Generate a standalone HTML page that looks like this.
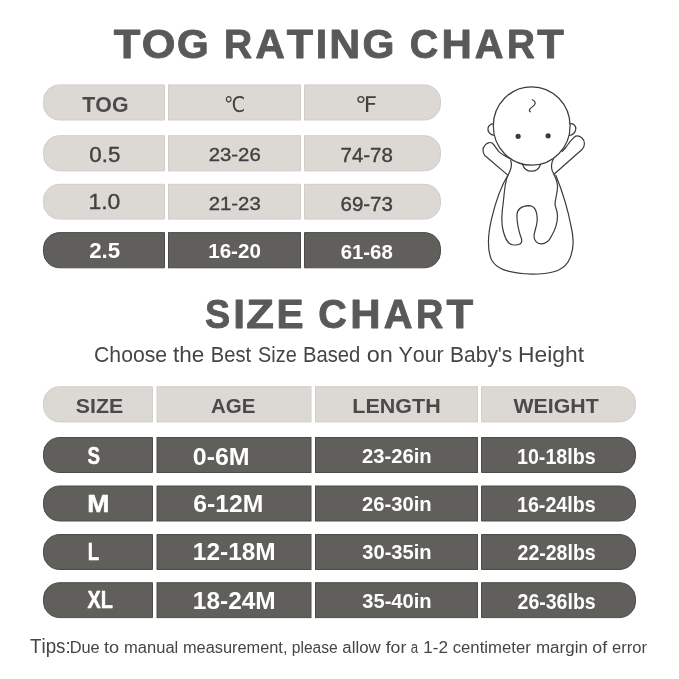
<!DOCTYPE html>
<html><head><meta charset="utf-8"><title>TOG Rating Chart &amp; Size Chart</title>
<style>
html,body{margin:0;padding:0;background:#fff;}
svg{display:block;will-change:transform;}
text{font-kerning:none;}
</style></head>
<body>
<svg width="679" height="679" viewBox="0 0 679 679">
<rect width="679" height="679" fill="#fff"/>
<path d="M60.0,84.9 H164.5 V120.0 H60.0 A16.5,15.5 0 0 1 43.5,104.5 V100.4 A16.5,15.5 0 0 1 60.0,84.9 Z" fill="#dcd8d3" stroke="#d2cec9" stroke-width="1"/>
<rect x="168.5" y="84.9" width="132.0" height="35.099999999999994" fill="#dcd8d3" stroke="#d2cec9" stroke-width="1"/>
<path d="M304.5,84.9 H424.0 A16.5,15.5 0 0 1 440.5,100.4 V104.5 A16.5,15.5 0 0 1 424.0,120.0 H304.5 Z" fill="#dcd8d3" stroke="#d2cec9" stroke-width="1"/>
<path d="M60.0,135.7 H164.5 V170.9 H60.0 A16.5,15.5 0 0 1 43.5,155.4 V151.2 A16.5,15.5 0 0 1 60.0,135.7 Z" fill="#dcd8d3" stroke="#d2cec9" stroke-width="1"/>
<rect x="168.5" y="135.7" width="132.0" height="35.20000000000002" fill="#dcd8d3" stroke="#d2cec9" stroke-width="1"/>
<path d="M304.5,135.7 H424.0 A16.5,15.5 0 0 1 440.5,151.2 V155.4 A16.5,15.5 0 0 1 424.0,170.9 H304.5 Z" fill="#dcd8d3" stroke="#d2cec9" stroke-width="1"/>
<path d="M60.0,184.3 H164.5 V219.1 H60.0 A16.5,15.5 0 0 1 43.5,203.6 V199.8 A16.5,15.5 0 0 1 60.0,184.3 Z" fill="#dcd8d3" stroke="#d2cec9" stroke-width="1"/>
<rect x="168.5" y="184.3" width="132.0" height="34.79999999999998" fill="#dcd8d3" stroke="#d2cec9" stroke-width="1"/>
<path d="M304.5,184.3 H424.0 A16.5,15.5 0 0 1 440.5,199.8 V203.6 A16.5,15.5 0 0 1 424.0,219.1 H304.5 Z" fill="#dcd8d3" stroke="#d2cec9" stroke-width="1"/>
<path d="M60.0,232.6 H164.5 V267.8 H60.0 A16.5,15.5 0 0 1 43.5,252.3 V248.1 A16.5,15.5 0 0 1 60.0,232.6 Z" fill="#615f5b" stroke="#4e4c4a" stroke-width="1"/>
<rect x="168.5" y="232.6" width="132.0" height="35.20000000000002" fill="#615f5b" stroke="#4e4c4a" stroke-width="1"/>
<path d="M304.5,232.6 H424.0 A16.5,15.5 0 0 1 440.5,248.1 V252.3 A16.5,15.5 0 0 1 424.0,267.8 H304.5 Z" fill="#615f5b" stroke="#4e4c4a" stroke-width="1"/>
<path d="M60.0,386.7 H152.5 V421.9 H60.0 A16.5,15.5 0 0 1 43.5,406.4 V402.2 A16.5,15.5 0 0 1 60.0,386.7 Z" fill="#dcd8d3" stroke="#d2cec9" stroke-width="1"/>
<rect x="157.0" y="386.7" width="154.0" height="35.19999999999999" fill="#dcd8d3" stroke="#d2cec9" stroke-width="1"/>
<rect x="315.5" y="386.7" width="162.0" height="35.19999999999999" fill="#dcd8d3" stroke="#d2cec9" stroke-width="1"/>
<path d="M481.5,386.7 H619.0 A16.5,15.5 0 0 1 635.5,402.2 V406.4 A16.5,15.5 0 0 1 619.0,421.9 H481.5 Z" fill="#dcd8d3" stroke="#d2cec9" stroke-width="1"/>
<path d="M60.0,437.5 H152.5 V472.5 H60.0 A16.5,15.5 0 0 1 43.5,457.0 V453.0 A16.5,15.5 0 0 1 60.0,437.5 Z" fill="#615f5b" stroke="#4e4c4a" stroke-width="1"/>
<rect x="157.0" y="437.5" width="154.0" height="35.0" fill="#615f5b" stroke="#4e4c4a" stroke-width="1"/>
<rect x="315.5" y="437.5" width="162.0" height="35.0" fill="#615f5b" stroke="#4e4c4a" stroke-width="1"/>
<path d="M481.5,437.5 H619.0 A16.5,15.5 0 0 1 635.5,453.0 V457.0 A16.5,15.5 0 0 1 619.0,472.5 H481.5 Z" fill="#615f5b" stroke="#4e4c4a" stroke-width="1"/>
<path d="M60.0,486.0 H152.5 V521.0 H60.0 A16.5,15.5 0 0 1 43.5,505.5 V501.5 A16.5,15.5 0 0 1 60.0,486.0 Z" fill="#615f5b" stroke="#4e4c4a" stroke-width="1"/>
<rect x="157.0" y="486.0" width="154.0" height="35.0" fill="#615f5b" stroke="#4e4c4a" stroke-width="1"/>
<rect x="315.5" y="486.0" width="162.0" height="35.0" fill="#615f5b" stroke="#4e4c4a" stroke-width="1"/>
<path d="M481.5,486.0 H619.0 A16.5,15.5 0 0 1 635.5,501.5 V505.5 A16.5,15.5 0 0 1 619.0,521.0 H481.5 Z" fill="#615f5b" stroke="#4e4c4a" stroke-width="1"/>
<path d="M60.0,534.5 H152.5 V569.5 H60.0 A16.5,15.5 0 0 1 43.5,554.0 V550.0 A16.5,15.5 0 0 1 60.0,534.5 Z" fill="#615f5b" stroke="#4e4c4a" stroke-width="1"/>
<rect x="157.0" y="534.5" width="154.0" height="35.0" fill="#615f5b" stroke="#4e4c4a" stroke-width="1"/>
<rect x="315.5" y="534.5" width="162.0" height="35.0" fill="#615f5b" stroke="#4e4c4a" stroke-width="1"/>
<path d="M481.5,534.5 H619.0 A16.5,15.5 0 0 1 635.5,550.0 V554.0 A16.5,15.5 0 0 1 619.0,569.5 H481.5 Z" fill="#615f5b" stroke="#4e4c4a" stroke-width="1"/>
<path d="M60.0,582.7 H152.5 V617.6 H60.0 A16.5,15.5 0 0 1 43.5,602.1 V598.2 A16.5,15.5 0 0 1 60.0,582.7 Z" fill="#615f5b" stroke="#4e4c4a" stroke-width="1"/>
<rect x="157.0" y="582.7" width="154.0" height="34.89999999999998" fill="#615f5b" stroke="#4e4c4a" stroke-width="1"/>
<rect x="315.5" y="582.7" width="162.0" height="34.89999999999998" fill="#615f5b" stroke="#4e4c4a" stroke-width="1"/>
<path d="M481.5,582.7 H619.0 A16.5,15.5 0 0 1 635.5,598.2 V602.1 A16.5,15.5 0 0 1 619.0,617.6 H481.5 Z" fill="#615f5b" stroke="#4e4c4a" stroke-width="1"/>
<g aria-label="TOG RATING CHART">
<text x="113.76" y="57.55" font-family="'Liberation Sans', sans-serif" font-weight="700" font-size="41.57" fill="#595959" textLength="26.66" lengthAdjust="spacingAndGlyphs" stroke="#595959" stroke-width="0.9" stroke-linejoin="round">T</text>
<text x="141.87" y="57.55" font-family="'Liberation Sans', sans-serif" font-weight="700" font-size="41.57" fill="#595959" textLength="33.70" lengthAdjust="spacingAndGlyphs" stroke="#595959" stroke-width="0.9" stroke-linejoin="round">O</text>
<text x="176.88" y="57.55" font-family="'Liberation Sans', sans-serif" font-weight="700" font-size="41.57" fill="#595959" textLength="31.70" lengthAdjust="spacingAndGlyphs" stroke="#595959" stroke-width="0.9" stroke-linejoin="round">G</text>
<text x="224.05" y="57.55" font-family="'Liberation Sans', sans-serif" font-weight="700" font-size="41.57" fill="#595959" textLength="28.10" lengthAdjust="spacingAndGlyphs" stroke="#595959" stroke-width="0.9" stroke-linejoin="round">R</text>
<text x="255.54" y="57.55" font-family="'Liberation Sans', sans-serif" font-weight="700" font-size="41.57" fill="#595959" textLength="29.28" lengthAdjust="spacingAndGlyphs" stroke="#595959" stroke-width="0.9" stroke-linejoin="round">A</text>
<text x="286.67" y="57.55" font-family="'Liberation Sans', sans-serif" font-weight="700" font-size="41.57" fill="#595959" textLength="26.35" lengthAdjust="spacingAndGlyphs" stroke="#595959" stroke-width="0.9" stroke-linejoin="round">T</text>
<text x="315.81" y="57.55" font-family="'Liberation Sans', sans-serif" font-weight="700" font-size="41.57" fill="#595959" textLength="11.38" lengthAdjust="spacingAndGlyphs" stroke="#595959" stroke-width="0.9" stroke-linejoin="round">I</text>
<text x="329.38" y="57.55" font-family="'Liberation Sans', sans-serif" font-weight="700" font-size="41.57" fill="#595959" textLength="30.96" lengthAdjust="spacingAndGlyphs" stroke="#595959" stroke-width="0.9" stroke-linejoin="round">N</text>
<text x="362.57" y="57.55" font-family="'Liberation Sans', sans-serif" font-weight="700" font-size="41.57" fill="#595959" textLength="31.93" lengthAdjust="spacingAndGlyphs" stroke="#595959" stroke-width="0.9" stroke-linejoin="round">G</text>
<text x="409.73" y="57.55" font-family="'Liberation Sans', sans-serif" font-weight="700" font-size="41.57" fill="#595959" textLength="28.50" lengthAdjust="spacingAndGlyphs" stroke="#595959" stroke-width="0.9" stroke-linejoin="round">C</text>
<text x="441.54" y="57.55" font-family="'Liberation Sans', sans-serif" font-weight="700" font-size="41.57" fill="#595959" textLength="30.34" lengthAdjust="spacingAndGlyphs" stroke="#595959" stroke-width="0.9" stroke-linejoin="round">H</text>
<text x="474.76" y="57.55" font-family="'Liberation Sans', sans-serif" font-weight="700" font-size="41.57" fill="#595959" textLength="28.74" lengthAdjust="spacingAndGlyphs" stroke="#595959" stroke-width="0.9" stroke-linejoin="round">A</text>
<text x="506.97" y="57.55" font-family="'Liberation Sans', sans-serif" font-weight="700" font-size="41.57" fill="#595959" textLength="27.87" lengthAdjust="spacingAndGlyphs" stroke="#595959" stroke-width="0.9" stroke-linejoin="round">R</text>
<text x="537.36" y="57.55" font-family="'Liberation Sans', sans-serif" font-weight="700" font-size="41.57" fill="#595959" textLength="26.56" lengthAdjust="spacingAndGlyphs" stroke="#595959" stroke-width="0.9" stroke-linejoin="round">T</text>
</g>
<g aria-label="SIZE CHART">
<text x="205.06" y="327.95" font-family="'Liberation Sans', sans-serif" font-weight="700" font-size="41.28" fill="#595959" textLength="25.16" lengthAdjust="spacingAndGlyphs" stroke="#595959" stroke-width="0.9" stroke-linejoin="round">S</text>
<text x="233.22" y="327.95" font-family="'Liberation Sans', sans-serif" font-weight="700" font-size="41.28" fill="#595959" textLength="11.77" lengthAdjust="spacingAndGlyphs" stroke="#595959" stroke-width="0.9" stroke-linejoin="round">I</text>
<text x="246.20" y="327.95" font-family="'Liberation Sans', sans-serif" font-weight="700" font-size="41.28" fill="#595959" textLength="27.65" lengthAdjust="spacingAndGlyphs" stroke="#595959" stroke-width="0.9" stroke-linejoin="round">Z</text>
<text x="276.43" y="327.95" font-family="'Liberation Sans', sans-serif" font-weight="700" font-size="41.28" fill="#595959" textLength="27.11" lengthAdjust="spacingAndGlyphs" stroke="#595959" stroke-width="0.9" stroke-linejoin="round">E</text>
<text x="318.33" y="327.95" font-family="'Liberation Sans', sans-serif" font-weight="700" font-size="41.28" fill="#595959" textLength="28.61" lengthAdjust="spacingAndGlyphs" stroke="#595959" stroke-width="0.9" stroke-linejoin="round">C</text>
<text x="350.34" y="327.95" font-family="'Liberation Sans', sans-serif" font-weight="700" font-size="41.28" fill="#595959" textLength="30.34" lengthAdjust="spacingAndGlyphs" stroke="#595959" stroke-width="0.9" stroke-linejoin="round">H</text>
<text x="383.66" y="327.95" font-family="'Liberation Sans', sans-serif" font-weight="700" font-size="41.28" fill="#595959" textLength="28.74" lengthAdjust="spacingAndGlyphs" stroke="#595959" stroke-width="0.9" stroke-linejoin="round">A</text>
<text x="415.92" y="327.95" font-family="'Liberation Sans', sans-serif" font-weight="700" font-size="41.28" fill="#595959" textLength="27.30" lengthAdjust="spacingAndGlyphs" stroke="#595959" stroke-width="0.9" stroke-linejoin="round">R</text>
<text x="446.46" y="327.95" font-family="'Liberation Sans', sans-serif" font-weight="700" font-size="41.28" fill="#595959" textLength="26.66" lengthAdjust="spacingAndGlyphs" stroke="#595959" stroke-width="0.9" stroke-linejoin="round">T</text>
</g>
<text x="94.02" y="361.80" font-family="'Liberation Sans', sans-serif" font-weight="400" font-size="21.80" fill="#454545" textLength="73.12" lengthAdjust="spacingAndGlyphs">Choose</text>
<text x="172.96" y="361.80" font-family="'Liberation Sans', sans-serif" font-weight="400" font-size="21.80" fill="#454545" textLength="31.34" lengthAdjust="spacingAndGlyphs">the</text>
<text x="210.85" y="361.80" font-family="'Liberation Sans', sans-serif" font-weight="400" font-size="21.80" fill="#454545" textLength="40.19" lengthAdjust="spacingAndGlyphs">Best</text>
<text x="258.10" y="361.80" font-family="'Liberation Sans', sans-serif" font-weight="400" font-size="21.80" fill="#454545" textLength="38.58" lengthAdjust="spacingAndGlyphs">Size</text>
<text x="302.94" y="361.80" font-family="'Liberation Sans', sans-serif" font-weight="400" font-size="21.80" fill="#454545" textLength="57.36" lengthAdjust="spacingAndGlyphs">Based</text>
<text x="366.81" y="361.80" font-family="'Liberation Sans', sans-serif" font-weight="400" font-size="21.80" fill="#454545" textLength="26.11" lengthAdjust="spacingAndGlyphs">on</text>
<text x="398.53" y="361.80" font-family="'Liberation Sans', sans-serif" font-weight="400" font-size="21.80" fill="#454545" textLength="45.23" lengthAdjust="spacingAndGlyphs">Your</text>
<text x="450.08" y="361.80" font-family="'Liberation Sans', sans-serif" font-weight="400" font-size="21.80" fill="#454545" textLength="62.28" lengthAdjust="spacingAndGlyphs">Baby's</text>
<text x="518.03" y="361.80" font-family="'Liberation Sans', sans-serif" font-weight="400" font-size="21.80" fill="#454545" textLength="66.04" lengthAdjust="spacingAndGlyphs">Height</text>
<text x="82.36" y="111.70" font-family="'Liberation Sans', sans-serif" font-weight="700" font-size="21.22" fill="#4a4a4a" textLength="46.16" lengthAdjust="spacingAndGlyphs">TOG</text>
<text x="224.00" y="111.59" font-family="'DejaVu Sans', sans-serif" font-weight="400" font-size="21.68" fill="#404040" textLength="21.22" lengthAdjust="spacingAndGlyphs">℃</text>
<text x="354.97" y="111.50" font-family="'DejaVu Sans', sans-serif" font-weight="400" font-size="21.56" fill="#404040" textLength="22.29" lengthAdjust="spacingAndGlyphs">℉</text>
<text x="89.30" y="161.61" font-family="'Liberation Sans', sans-serif" font-weight="400" font-size="22.10" fill="#404040" textLength="31.06" lengthAdjust="spacingAndGlyphs" stroke="#404040" stroke-width="0.35" stroke-linejoin="round">0.5</text>
<text x="208.65" y="161.34" font-family="'Liberation Sans', sans-serif" font-weight="400" font-size="19.14" fill="#404040" textLength="52.07" lengthAdjust="spacingAndGlyphs" stroke="#404040" stroke-width="0.35" stroke-linejoin="round">23-26</text>
<text x="340.52" y="162.43" font-family="'Liberation Sans', sans-serif" font-weight="400" font-size="19.56" fill="#404040" textLength="52.39" lengthAdjust="spacingAndGlyphs" stroke="#404040" stroke-width="0.35" stroke-linejoin="round">74-78</text>
<text x="88.43" y="209.41" font-family="'Liberation Sans', sans-serif" font-weight="400" font-size="22.10" fill="#404040" textLength="31.89" lengthAdjust="spacingAndGlyphs" stroke="#404040" stroke-width="0.35" stroke-linejoin="round">1.0</text>
<text x="208.65" y="209.54" font-family="'Liberation Sans', sans-serif" font-weight="400" font-size="19.14" fill="#404040" textLength="52.07" lengthAdjust="spacingAndGlyphs" stroke="#404040" stroke-width="0.35" stroke-linejoin="round">21-23</text>
<text x="340.53" y="210.63" font-family="'Liberation Sans', sans-serif" font-weight="400" font-size="19.56" fill="#404040" textLength="52.39" lengthAdjust="spacingAndGlyphs" stroke="#404040" stroke-width="0.35" stroke-linejoin="round">69-73</text>
<text x="89.23" y="257.78" font-family="'Liberation Sans', sans-serif" font-weight="700" font-size="22.60" fill="#ffffff" textLength="30.99" lengthAdjust="spacingAndGlyphs">2.5</text>
<text x="208.20" y="258.11" font-family="'Liberation Sans', sans-serif" font-weight="700" font-size="19.63" fill="#ffffff" textLength="52.64" lengthAdjust="spacingAndGlyphs">16-20</text>
<text x="340.65" y="259.20" font-family="'Liberation Sans', sans-serif" font-weight="700" font-size="20.06" fill="#ffffff" textLength="52.17" lengthAdjust="spacingAndGlyphs">61-68</text>
<text x="75.89" y="412.81" font-family="'Liberation Sans', sans-serif" font-weight="700" font-size="19.49" fill="#4a4a4a" textLength="47.35" lengthAdjust="spacingAndGlyphs">SIZE</text>
<text x="210.99" y="412.71" font-family="'Liberation Sans', sans-serif" font-weight="700" font-size="19.49" fill="#4a4a4a" textLength="44.41" lengthAdjust="spacingAndGlyphs">AGE</text>
<text x="352.36" y="413.10" font-family="'Liberation Sans', sans-serif" font-weight="700" font-size="20.06" fill="#4a4a4a" textLength="88.39" lengthAdjust="spacingAndGlyphs">LENGTH</text>
<text x="513.48" y="413.01" font-family="'Liberation Sans', sans-serif" font-weight="700" font-size="19.92" fill="#4a4a4a" textLength="85.25" lengthAdjust="spacingAndGlyphs">WEIGHT</text>
<text x="87.41" y="463.75" font-family="'Liberation Sans', sans-serif" font-weight="700" font-size="23.98" fill="#ffffff" textLength="12.47" lengthAdjust="spacingAndGlyphs" stroke="#ffffff" stroke-width="0.5" stroke-linejoin="round">S</text>
<text x="192.81" y="464.60" font-family="'Liberation Sans', sans-serif" font-weight="700" font-size="24.42" fill="#ffffff" textLength="56.86" lengthAdjust="spacingAndGlyphs">0-6M</text>
<text x="362.00" y="463.20" font-family="'Liberation Sans', sans-serif" font-weight="700" font-size="20.79" fill="#ffffff" textLength="69.65" lengthAdjust="spacingAndGlyphs">23-26in</text>
<text x="516.96" y="464.30" font-family="'Liberation Sans', sans-serif" font-weight="700" font-size="21.95" fill="#ffffff" textLength="78.75" lengthAdjust="spacingAndGlyphs">10-18lbs</text>
<text x="87.17" y="511.55" font-family="'Liberation Sans', sans-serif" font-weight="700" font-size="23.98" fill="#ffffff" textLength="22.16" lengthAdjust="spacingAndGlyphs" stroke="#ffffff" stroke-width="0.5" stroke-linejoin="round">M</text>
<text x="193.19" y="512.40" font-family="'Liberation Sans', sans-serif" font-weight="700" font-size="24.42" fill="#ffffff" textLength="70.06" lengthAdjust="spacingAndGlyphs">6-12M</text>
<text x="362.00" y="511.00" font-family="'Liberation Sans', sans-serif" font-weight="700" font-size="20.79" fill="#ffffff" textLength="69.65" lengthAdjust="spacingAndGlyphs">26-30in</text>
<text x="516.96" y="512.10" font-family="'Liberation Sans', sans-serif" font-weight="700" font-size="21.95" fill="#ffffff" textLength="78.75" lengthAdjust="spacingAndGlyphs">16-24lbs</text>
<text x="87.70" y="559.55" font-family="'Liberation Sans', sans-serif" font-weight="700" font-size="23.98" fill="#ffffff" textLength="11.43" lengthAdjust="spacingAndGlyphs" stroke="#ffffff" stroke-width="0.5" stroke-linejoin="round">L</text>
<text x="192.86" y="560.40" font-family="'Liberation Sans', sans-serif" font-weight="700" font-size="24.42" fill="#ffffff" textLength="82.87" lengthAdjust="spacingAndGlyphs">12-18M</text>
<text x="362.24" y="559.00" font-family="'Liberation Sans', sans-serif" font-weight="700" font-size="20.79" fill="#ffffff" textLength="69.41" lengthAdjust="spacingAndGlyphs">30-35in</text>
<text x="517.52" y="560.10" font-family="'Liberation Sans', sans-serif" font-weight="700" font-size="21.95" fill="#ffffff" textLength="78.18" lengthAdjust="spacingAndGlyphs">22-28lbs</text>
<text x="87.48" y="608.35" font-family="'Liberation Sans', sans-serif" font-weight="700" font-size="23.98" fill="#ffffff" textLength="25.28" lengthAdjust="spacingAndGlyphs" stroke="#ffffff" stroke-width="0.5" stroke-linejoin="round">XL</text>
<text x="192.86" y="609.20" font-family="'Liberation Sans', sans-serif" font-weight="700" font-size="24.42" fill="#ffffff" textLength="82.87" lengthAdjust="spacingAndGlyphs">18-24M</text>
<text x="362.24" y="607.80" font-family="'Liberation Sans', sans-serif" font-weight="700" font-size="20.79" fill="#ffffff" textLength="69.41" lengthAdjust="spacingAndGlyphs">35-40in</text>
<text x="517.52" y="608.90" font-family="'Liberation Sans', sans-serif" font-weight="700" font-size="21.95" fill="#ffffff" textLength="78.18" lengthAdjust="spacingAndGlyphs">26-36lbs</text>
<text x="30.08" y="652.80" font-family="'Liberation Sans', sans-serif" font-weight="400" font-size="20.20" fill="#454545" textLength="40.63" lengthAdjust="spacingAndGlyphs">Tips:</text>
<text x="69.66" y="652.60" font-family="'Liberation Sans', sans-serif" font-weight="400" font-size="16.42" fill="#454545" textLength="30.07" lengthAdjust="spacingAndGlyphs">Due</text>
<text x="104.03" y="652.60" font-family="'Liberation Sans', sans-serif" font-weight="400" font-size="16.42" fill="#454545" textLength="15.14" lengthAdjust="spacingAndGlyphs">to</text>
<text x="124.10" y="652.60" font-family="'Liberation Sans', sans-serif" font-weight="400" font-size="16.42" fill="#454545" textLength="54.20" lengthAdjust="spacingAndGlyphs">manual</text>
<text x="182.91" y="652.60" font-family="'Liberation Sans', sans-serif" font-weight="400" font-size="16.42" fill="#454545" textLength="104.56" lengthAdjust="spacingAndGlyphs">measurement,</text>
<text x="291.79" y="652.60" font-family="'Liberation Sans', sans-serif" font-weight="400" font-size="16.42" fill="#454545" textLength="46.00" lengthAdjust="spacingAndGlyphs">please</text>
<text x="342.38" y="652.60" font-family="'Liberation Sans', sans-serif" font-weight="400" font-size="16.42" fill="#454545" textLength="38.37" lengthAdjust="spacingAndGlyphs">allow</text>
<text x="385.65" y="652.60" font-family="'Liberation Sans', sans-serif" font-weight="400" font-size="16.42" fill="#454545" textLength="20.64" lengthAdjust="spacingAndGlyphs">for</text>
<text x="410.74" y="652.60" font-family="'Liberation Sans', sans-serif" font-weight="400" font-size="16.42" fill="#454545" textLength="7.36" lengthAdjust="spacingAndGlyphs">a</text>
<text x="423.30" y="652.60" font-family="'Liberation Sans', sans-serif" font-weight="400" font-size="16.42" fill="#454545" textLength="24.66" lengthAdjust="spacingAndGlyphs">1-2</text>
<text x="452.69" y="652.60" font-family="'Liberation Sans', sans-serif" font-weight="400" font-size="16.42" fill="#454545" textLength="78.09" lengthAdjust="spacingAndGlyphs">centimeter</text>
<text x="535.97" y="652.60" font-family="'Liberation Sans', sans-serif" font-weight="400" font-size="16.42" fill="#454545" textLength="51.93" lengthAdjust="spacingAndGlyphs">margin</text>
<text x="592.25" y="652.60" font-family="'Liberation Sans', sans-serif" font-weight="400" font-size="16.42" fill="#454545" textLength="14.82" lengthAdjust="spacingAndGlyphs">of</text>
<text x="612.10" y="652.60" font-family="'Liberation Sans', sans-serif" font-weight="400" font-size="16.42" fill="#454545" textLength="34.98" lengthAdjust="spacingAndGlyphs">error</text>
<g fill="none" stroke="#3a3a3a" stroke-width="1.2" stroke-linecap="round" stroke-linejoin="round">
<!-- sack -->
<path fill="#fff" d="M508.4,174.3 C503,183 496,200 491.5,219.2 C488.5,232 486.5,248 491.5,259.8 C496,268 505,273 532.1,274.2 C548,274 562,272 568,262 C574,252 574,238 571,226 C568,210 561,188 555.8,175.2"/>
<!-- body -->
<path fill="#fff" d="M510.5,160 C513,166 510,171 506.7,178.5 C504,188 504.5,193 503.2,203 C501.5,214 501,222 503,230 C505,239 509,245 514,245 C518.5,245.2 523,244 521.5,239 C519,232 517,226 516.9,215.8 C516.9,210 520,206 528.7,205.6 C533,205.6 537,209 537.2,219.2 C537.2,226 534,232 534,236.1 C534,240.5 537,243.9 541,243.9 C545.5,244 549,241.5 551.5,236 C555.5,229.4 557.5,224 557.5,215.8 C557.5,210 555,207 555,204 C555.5,197 557.8,192 557.5,186 C557.2,180 554.5,175.5 552.5,171.5 C551,168 551.2,162.5 553.3,159.2"/>
<!-- left arm -->
<path fill="#fff" d="M507.5,174.9 L484.8,155.5 C482.5,153 482.5,148 484.5,146 C486.5,143 490,141.5 492.4,143.3 C495,145.5 497,150 499.4,152.1 C502,154.5 506,156.5 510.4,158.7"/>
<!-- right arm -->
<path fill="#fff" d="M554,174.2 L582,149.5 C585,146.5 585.5,141 582,138 C579,135.5 576,135.6 574.2,137.2 C571,140.5 569,143 567.5,145 C565,148.5 564,150.5 562.1,151.5"/>
<!-- ears -->
<path fill="#fff" d="M494.5,135.3 C490,135 487.3,131.5 488,128 C488.7,125 491.5,123.3 494,124.2"/>
<path fill="#fff" d="M569.8,123.8 C573.2,123.2 576.2,125.8 575.8,129.2 C575.4,132.5 572.5,135.2 569.3,135.5"/>
<!-- head -->
<ellipse fill="#fff" cx="531.7" cy="126" rx="38.4" ry="39.2"/>
<!-- collar -->
<path fill="none" d="M522.5,164.2 C524,169 528,171.2 531.5,171.2 C535,171.2 539,169 540.5,164.5"/>
<!-- hair -->
<path d="M532.2,99.8 C534.5,100.8 536.2,102.5 534.5,104.8 C532.5,107 529.8,108.5 529.4,110 C529.2,111 529.8,111.6 530.4,111.8"/>
<circle cx="518.1" cy="136.3" r="2.6" fill="#3a3a3a" stroke="none"/>
<circle cx="548.1" cy="135.8" r="2.6" fill="#3a3a3a" stroke="none"/>
</g>

</svg>
</body></html>
